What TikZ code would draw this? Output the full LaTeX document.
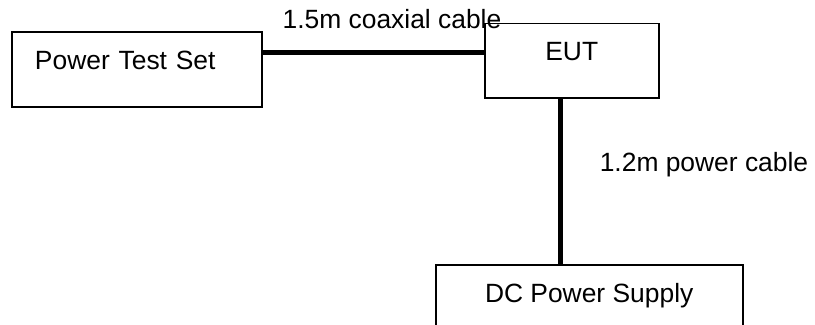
\documentclass[tikz,border=0pt]{standalone}
\usepackage{fontspec}
\setmainfont{Liberation Sans}
\usetikzlibrary{positioning}

\begin{document}
\begin{tikzpicture}[
  x=0.75pt, y=0.75pt,
  font=\fontsize{19.8}{24}\selectfont,
  box/.style={draw, line width=1.3pt, minimum height=56pt, inner sep=0pt,
              text height=12pt, text depth=12pt},
  cable/.style={line width=3.8pt},
  lbl/.style={inner sep=0pt, anchor=base}
]
\useasboundingbox (0,0) rectangle (815,325);
\clip (0,0) rectangle (815,325);

\node[box, minimum width=187.5pt, text width=153pt, align=left] (pts) at (137,255.5) {Power Test Set};
\node[box, minimum width=130.5pt, right=165.75pt of pts, yshift=6.4pt] (eut) {EUT};
\node[box, minimum width=230.25pt, below=123.5pt of eut, xshift=13.1pt] (dc) {DC Power Supply};

\draw[cable] ([yshift=12.4pt]pts.east) coordinate (c1) -- (c1 -| eut.west);
\draw[cable] ([xshift=-8.25pt]eut.south) coordinate (c2) -- (c2 |- dc.north);

\node[lbl] (coaxlbl) at (392,296) {1.5m coaxial cable};
\node[lbl] (pwrlbl) at (704,153) {1.2m power cable};
\end{tikzpicture}
\end{document}
